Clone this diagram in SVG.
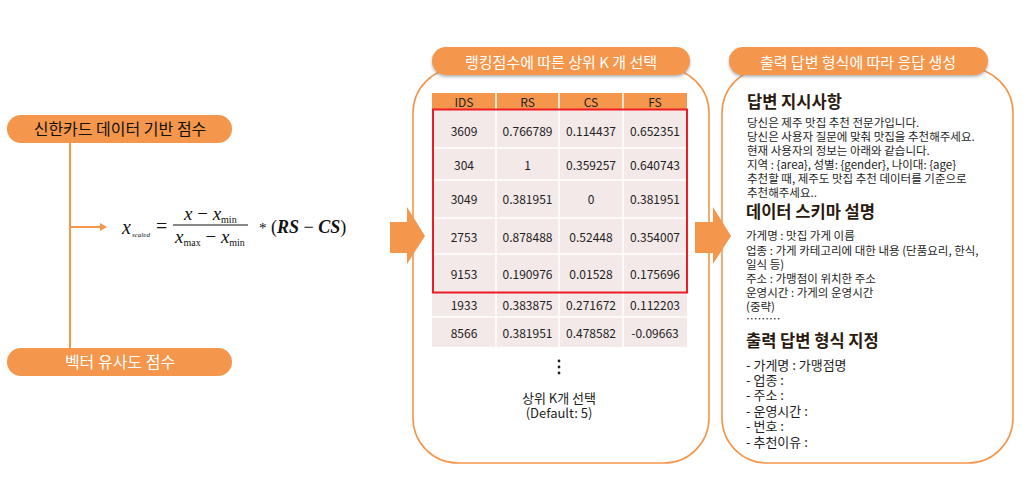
<svg xmlns="http://www.w3.org/2000/svg" width="1023" height="499" viewBox="0 0 1023 499">
<defs>
<style>
.kr{font-family:"Noto Sans CJK KR","Noto Sans",sans-serif;}
.pill{fill:#F4964B;}
.panel{fill:#fff;stroke:#F4964B;stroke-width:1.6;}
.ptxt{font-family:"Noto Sans CJK KR",sans-serif;font-size:15px;fill:#fff;text-anchor:middle;}
.cell{font-family:"Noto Sans CJK KR","Noto Sans",sans-serif;font-size:12px;fill:#222;text-anchor:middle;dominant-baseline:central;}
.h{font-family:"Noto Sans CJK KR",sans-serif;font-size:16.5px;font-weight:bold;fill:#2a1a0e;}
.b{font-family:"Noto Sans CJK KR",sans-serif;font-size:11.5px;fill:#1e1e1e;}
.l{font-family:"Noto Sans CJK KR",sans-serif;font-size:13px;fill:#1e1e1e;}
.m{font-family:"Liberation Serif",serif;fill:#111;}
.conn{stroke:#F4964B;stroke-width:2;fill:none;}
.blk{fill:#F4964B;}
</style>
<filter id="sh" x="-10%" y="-30%" width="120%" height="170%">
<feDropShadow dx="0" dy="2" stdDeviation="1.5" flood-color="#888" flood-opacity="0.6"/>
</filter>
<marker id="ah" markerWidth="8" markerHeight="8" refX="6" refY="4" orient="auto" markerUnits="userSpaceOnUse">
<path d="M0,0 L7,4 L0,8 Z" fill="#F4964B"/>
</marker>
</defs>
<rect width="1023" height="499" fill="#fff"/>

<g id="connectors">
<line class="conn" x1="70" y1="142" x2="70" y2="348"/>
<line class="conn" x1="70" y1="227" x2="106" y2="227" marker-end="url(#ah)"/>
</g>

<g id="node-shinhan">
<rect class="pill" x="7" y="115" width="225" height="28" rx="14"/>
<text class="kr" x="120" y="135" font-size="16" fill="#111" text-anchor="middle">신한카드 데이터 기반 점수</text>
</g>

<g id="node-vector">
<rect class="pill" x="7" y="348" width="225" height="28" rx="14"/>
<text class="kr" x="120" y="368" font-size="16" fill="#fff" text-anchor="middle">벡터 유사도 점수</text>
</g>

<g id="node-formula">
<text class="m" x="122" y="234" font-size="20" font-style="italic">x</text>
<text class="m" x="132" y="237" font-size="7" font-style="italic">scaled</text>
<text class="m" x="156" y="233" font-size="20">=</text>
<text class="m" x="184" y="220" font-size="19"><tspan font-style="italic">x</tspan> − <tspan font-style="italic">x</tspan><tspan font-size="10" dy="3">min</tspan></text>
<line x1="173" y1="225" x2="248" y2="225" stroke="#111" stroke-width="1"/>
<text class="m" x="175" y="243" font-size="19"><tspan font-style="italic">x</tspan><tspan font-size="10" dy="3">max</tspan><tspan dy="-3"> − </tspan><tspan font-style="italic">x</tspan><tspan font-size="10" dy="3">min</tspan></text>
<text class="m" x="259" y="233" font-size="18"><tspan font-size="15">*</tspan> (<tspan font-weight="bold" font-style="italic">RS</tspan> − <tspan font-weight="bold" font-style="italic">CS</tspan>)</text>
</g>

<g id="node-topk">
<rect class="panel" x="413" y="68" width="296" height="395" rx="45"/>
<rect class="pill" x="432" y="47" width="258" height="28" rx="14" filter="url(#sh)"/>
<text class="ptxt" x="561" y="67.5">랭킹점수에 따른 상위 K 개 선택</text>
<rect x="432" y="93" width="255" height="16" fill="#F4964B"/>
<rect x="432" y="109" width="255" height="238" fill="#F2E9E8"/>
<g stroke="#fff" stroke-width="1.5">
<line x1="496" y1="93" x2="496" y2="347"/>
<line x1="559" y1="93" x2="559" y2="347"/>
<line x1="623" y1="93" x2="623" y2="347"/>
<line x1="432" y1="148" x2="687" y2="148"/>
<line x1="432" y1="180" x2="687" y2="180"/>
<line x1="432" y1="218" x2="687" y2="218"/>
<line x1="432" y1="254" x2="687" y2="254"/>
<line x1="432" y1="317" x2="687" y2="317"/>
</g>
<text class="cell" x="464" y="101.5">IDS</text>
<text class="cell" x="527.5" y="101.5">RS</text>
<text class="cell" x="591" y="101.5">CS</text>
<text class="cell" x="655" y="101.5">FS</text>
<text class="cell" x="464" y="130">3609</text><text class="cell" x="527.5" y="130">0.766789</text><text class="cell" x="591" y="130">0.114437</text><text class="cell" x="655" y="130">0.652351</text>
<text class="cell" x="464" y="164">304</text><text class="cell" x="527.5" y="164">1</text><text class="cell" x="591" y="164">0.359257</text><text class="cell" x="655" y="164">0.640743</text>
<text class="cell" x="464" y="198">3049</text><text class="cell" x="527.5" y="198">0.381951</text><text class="cell" x="591" y="198">0</text><text class="cell" x="655" y="198">0.381951</text>
<text class="cell" x="464" y="236">2753</text><text class="cell" x="527.5" y="236">0.878488</text><text class="cell" x="591" y="236">0.52448</text><text class="cell" x="655" y="236">0.354007</text>
<text class="cell" x="464" y="273">9153</text><text class="cell" x="527.5" y="273">0.190976</text><text class="cell" x="591" y="273">0.01528</text><text class="cell" x="655" y="273">0.175696</text>
<text class="cell" x="464" y="304">1933</text><text class="cell" x="527.5" y="304">0.383875</text><text class="cell" x="591" y="304">0.271672</text><text class="cell" x="655" y="304">0.112203</text>
<text class="cell" x="464" y="332">8566</text><text class="cell" x="527.5" y="332">0.381951</text><text class="cell" x="591" y="332">0.478582</text><text class="cell" x="655" y="332">-0.09663</text>
<rect x="433" y="109.5" width="254" height="183" fill="none" stroke="#EE1C25" stroke-width="2"/>
<g fill="#222">
<circle cx="559" cy="361" r="1.4"/>
<circle cx="559" cy="367" r="1.4"/>
<circle cx="559" cy="373" r="1.4"/>
</g>
<text class="kr" x="559" y="402.5" font-size="13" fill="#222" text-anchor="middle">상위 K개 선택</text>
<text class="kr" x="559" y="418" font-size="13" fill="#222" text-anchor="middle">(Default: 5)</text>
</g>

<g id="node-output">
<rect class="panel" x="722" y="68" width="291" height="395" rx="45"/>
<rect class="pill" x="729" y="47" width="259" height="28" rx="14" filter="url(#sh)"/>
<text class="ptxt" x="858" y="67.5">출력 답변 형식에 따라 응답 생성</text>
<text class="h" x="747" y="108">답변 지시사항</text>
<text class="b" x="747" y="127">당신은 제주 맛집 추천 전문가입니다.</text>
<text class="b" x="747" y="141">당신은 사용자 질문에 맞춰 맛집을 추천해주세요.</text>
<text class="b" x="747" y="155">현재 사용자의 정보는 아래와 같습니다.</text>
<text class="b" x="747" y="169">지역 : {area}, 성별: {gender}, 나이대: {age}</text>
<text class="b" x="747" y="183">추천할 때, 제주도 맛집 추천 데이터를 기준으로</text>
<text class="b" x="747" y="197">추천해주세요..</text>
<text class="h" x="746" y="218">데이터 스키마 설명</text>
<text class="b" x="746" y="240">가게명 : 맛집 가게 이름</text>
<text class="b" x="746" y="255">업종 : 가게 카테고리에 대한 내용 (단품요리, 한식,</text>
<text class="b" x="746" y="269">일식 등)</text>
<text class="b" x="746" y="283">주소 : 가맹점이 위치한 주소</text>
<text class="b" x="746" y="297">운영시간 : 가게의 운영시간</text>
<text class="b" x="746" y="311">(중략)</text>
<text class="b" x="746" y="323" font-size="8">………</text>
<text class="h" x="746" y="347">출력 답변 형식 지정</text>
<text class="l" x="746" y="369.5">- 가게명 : 가맹점명</text>
<text class="l" x="746" y="385">- 업종 :</text>
<text class="l" x="746" y="400">- 주소 :</text>
<text class="l" x="746" y="416">- 운영시간 :</text>
<text class="l" x="746" y="431">- 번호 :</text>
<text class="l" x="746" y="446.5">- 추천이유 :</text>
</g>

<g id="block-arrows">
<polygon class="blk" points="390,222 407,222 407,207 425,236 407,264 407,253 390,253"/>
<polygon class="blk" points="695,222 713,222 713,207 731,236 713,264 713,253 695,253"/>
</g>
</svg>
